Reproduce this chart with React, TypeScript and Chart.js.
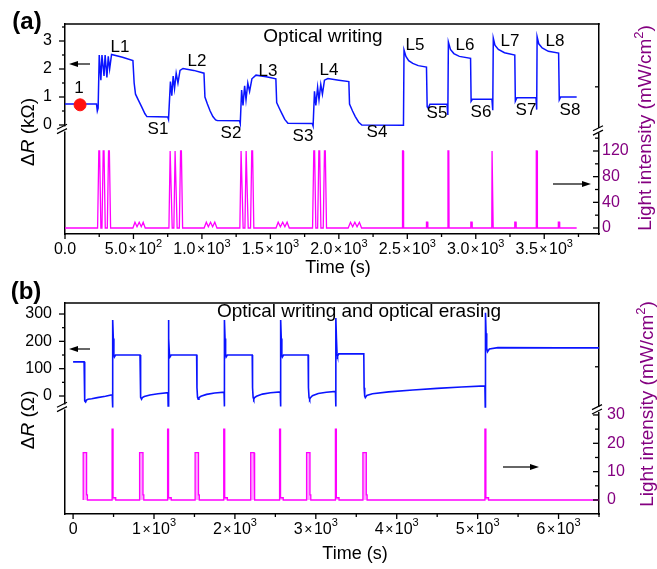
import React, { useEffect, useRef } from 'react';
import { Chart, registerables } from 'chart.js';

Chart.register(...registerables);

const FONT = '"Liberation Sans", Arial, Helvetica, sans-serif';
const BLUE = '#0a14ff';
const MAGENTA = '#ff00ff';
const PURPLE = '#840080';

// ---------------- Panel (a): optical writing ----------------
const timeRA = [0, 230, 236, 242, 250, 262, 270, 285, 293, 306, 316, 326, 340, 420, 496, 505, 515, 535, 560, 584, 598, 750, 756, 770, 780, 790, 800, 812, 825, 840, 862, 940, 1015, 1022, 1040, 1060, 1080, 1100, 1112, 1275, 1280, 1290, 1300, 1312, 1322, 1335, 1348, 1365, 1395, 1470, 1540, 1546, 1565, 1585, 1605, 1628, 1806, 1812, 1822, 1832, 1845, 1855, 1868, 1880, 1895, 1920, 2000, 2073, 2078, 2100, 2120, 2145, 2168, 2472, 2476, 2490, 2510, 2540, 2580, 2640, 2645, 2652, 2665, 2790, 2796, 2800, 2815, 2840, 2880, 2962, 2966, 2975, 3118, 3124, 3128, 3140, 3165, 3210, 3285, 3289, 3300, 3440, 3445, 3448, 3460, 3485, 3530, 3605, 3610, 3620, 3737];
const deltaRA = [0.75, 0.75, 0.5, 0.6, 2.5, 1.6, 2.5, 1.75, 2.5, 1.7, 2.45, 2.0, 2.52, 2.42, 2.3, 1.5, 1.1, 0.9, 0.65, 0.4, 0.3, 0.29, 0.2, 1.55, 1.05, 1.75, 1.3, 1.85, 1.5, 1.95, 2.02, 1.95, 1.85, 1.0, 0.75, 0.5, 0.3, 0.18, 0.16, 0.15, 0.05, 1.25, 0.7, 1.4, 0.9, 1.5, 1.2, 1.65, 1.78, 1.72, 1.65, 0.8, 0.6, 0.4, 0.2, 0.06, 0.05, -0.04, 1.2, 0.7, 1.35, 0.9, 1.45, 1.1, 1.6, 1.66, 1.6, 1.55, 0.75, 0.5, 0.3, 0.1, 0.0, -0.01, 2.68, 2.45, 2.3, 2.2, 2.12, 2.07, 0.65, 0.6, 0.74, 0.74, 0.36, 2.96, 2.7, 2.55, 2.45, 2.38, 0.85, 0.92, 0.92, 0.53, 3.1, 2.85, 2.7, 2.58, 2.5, 0.85, 0.97, 0.97, 0.55, 3.15, 2.9, 2.75, 2.63, 2.57, 0.9, 1.0, 1.0];

const timeLA = [
  0, 238, 247, 253, 262,
  270, 279, 285, 294,
  309, 318, 324, 333,
  496, 511, 526, 542, 557, 571, 586,
  759, 768, 774, 783,
  795, 804, 810, 819,
  835, 844, 850, 859,
  1016, 1032, 1047, 1063, 1078, 1094, 1110,
  1277, 1286, 1292, 1301,
  1314, 1323, 1329, 1338,
  1355, 1364, 1370, 1379,
  1541, 1557, 1573, 1590, 1606, 1622, 1638,
  1808, 1817, 1823, 1832,
  1845, 1854, 1860, 1869,
  1886, 1895, 1901, 1910,
  2068, 2085, 2101, 2117, 2133, 2150, 2166,
  2463, 2465, 2471, 2473,
  2639, 2640, 2649, 2650,
  2795, 2797, 2803, 2805,
  2963, 2964, 2973, 2974,
  3117, 3119, 3125, 3127,
  3284, 3285, 3294, 3295,
  3440, 3442, 3448, 3450,
  3602, 3603, 3612, 3613,
  3737,
];
const lightA = [
  0, 0, 120, 120, 0,
  0, 120, 120, 0,
  0, 120, 120, 0,
  0, 9, 2, 9, 2, 9, 0,
  0, 120, 120, 0,
  0, 120, 120, 0,
  0, 120, 120, 0,
  0, 9, 2, 9, 2, 9, 0,
  0, 120, 120, 0,
  0, 120, 120, 0,
  0, 120, 120, 0,
  0, 9, 2, 9, 2, 9, 0,
  0, 120, 120, 0,
  0, 120, 120, 0,
  0, 120, 120, 0,
  0, 9, 2, 9, 2, 9, 0,
  0, 120, 120, 0,
  0, 9, 9, 0,
  0, 120, 120, 0,
  0, 9, 9, 0,
  0, 120, 120, 0,
  0, 9, 9, 0,
  0, 120, 120, 0,
  0, 9, 9, 0,
  0,
];
const dotTimeA = [110];
const dotValueA = [0.72];

const xTicksA = [0, 250, 500, 750, 1000, 1250, 1500, 1750, 2000, 2250, 2500, 2750, 3000, 3250, 3500, 3750];
const xLabelsA = ['0.0', '', '5.0×10²', '', '1.0×10³', '', '1.5×10³', '', '2.0×10³', '', '2.5×10³', '', '3.0×10³', '', '3.5×10³', ''];
const yTicksA = [0, 0.5, 1, 1.5, 2, 2.5, 3, 3.5];
const yLabelsA = ['0', '', '1', '', '2', '', '3', ''];
const y2TicksA = [0, 20, 40, 60, 80, 100, 120, 140, 220];
const y2LabelsA = ['0', '', '40', '', '80', '', '120', '', ''];

// ---------------- Panel (b): optical writing and erasing ----------------
const timeRB = [0, 136, 140, 147, 155, 165, 185, 230, 300, 400, 484,
  488, 491, 497, 504, 511, 525, 827,
  831, 838, 846, 856, 880, 950, 1050, 1172,
  1175, 1178, 1184, 1191, 1198, 1212, 1527,
  1531, 1538, 1546, 1556, 1580, 1650, 1750, 1866,
  1869, 1872, 1878, 1885, 1892, 1906, 2214,
  2218, 2225, 2233, 2243, 2267, 2340, 2440, 2561,
  2564, 2567, 2573, 2580, 2587, 2601, 2905,
  2909, 2916, 2924, 2934, 2958, 3030, 3130, 3243,
  3246, 3249, 3255, 3262, 3269, 3283, 3593,
  3597, 3604, 3612, 3630, 3700, 3900, 4200, 4500, 4800, 5090,
  5094, 5097, 5104, 5112, 5122, 5145, 5250, 6000, 6500];
const deltaRB = [125, 125, 40, -18, -22, -15, -12, -10, -6, -1, 5,
  -42, 278, 210, 152, 143, 150, 150,
  30, -5, -12, -6, -2, 4, 8, 12,
  -36, 278, 210, 152, 143, 150, 150,
  30, -5, -12, -6, -1, 6, 11, 14,
  -38, 278, 210, 152, 143, 150, 150,
  30, -5, -12, -6, -1, 7, 12, 15,
  -38, 278, 210, 152, 143, 150, 150,
  30, -5, -12, -6, 1, 9, 14, 17,
  -38, 285, 210, 155, 146, 154, 154,
  30, 0, -6, 2, 8, 15, 22, 28, 33, 37,
  -40, 305, 230, 175, 162, 172, 177, 176, 176];

const timeLB = [
  125, 125, 167, 167, 177, 177,
  482, 482, 494, 494, 527, 527,
  822, 822, 864, 864, 874, 874,
  1168, 1168, 1180, 1180, 1213, 1213,
  1508, 1508, 1550, 1550, 1560, 1560,
  1862, 1862, 1874, 1874, 1907, 1907,
  2195, 2195, 2237, 2237, 2247, 2247,
  2552, 2552, 2564, 2564, 2597, 2597,
  2886, 2886, 2928, 2928, 2938, 2938,
  3242, 3242, 3254, 3254, 3287, 3287,
  3582, 3582, 3624, 3624, 3634, 3634,
  5090, 5090, 5102, 5102, 5135, 5135,
  6500,
];
const lightB = [
  0, 16.7, 16.7, 1.8, 1.8, 0,
  0, 25, 25, 0.8, 0.8, 0,
  0, 16.7, 16.7, 1.8, 1.8, 0,
  0, 25, 25, 0.8, 0.8, 0,
  0, 16.7, 16.7, 1.8, 1.8, 0,
  0, 25, 25, 0.8, 0.8, 0,
  0, 16.7, 16.7, 1.8, 1.8, 0,
  0, 25, 25, 0.8, 0.8, 0,
  0, 16.7, 16.7, 1.8, 1.8, 0,
  0, 25, 25, 0.8, 0.8, 0,
  0, 16.7, 16.7, 1.8, 1.8, 0,
  0, 25, 25, 0.8, 0.8, 0,
  0,
];

const xTicksB = [0, 500, 1000, 1500, 2000, 2500, 3000, 3500, 4000, 4500, 5000, 5500, 6000, 6500];
const xLabelsB = ['0', '', '1×10³', '', '2×10³', '', '3×10³', '', '4×10³', '', '5×10³', '', '6×10³', ''];
const yTicksB = [0, 50, 100, 150, 200, 250, 300];
const yLabelsB = ['0', '', '100', '', '200', '', '300'];
const y2TicksB = [0, 5, 10, 15, 20, 25, 30, 47];
const y2LabelsB = ['0', '', '10', '', '20', '', '30', ''];

// ---------------- helpers ----------------
const toPoints = (xs: number[], ys: number[]) => xs.map((x, i) => ({ x, y: ys[i] }));

function fixedTicks(values: number[], labels: string[]) {
  return {
    afterBuildTicks: (s: any) => {
      s.ticks = values.map((v) => ({ value: v }));
    },
    callback: (v: number) => {
      const i = values.indexOf(v);
      return i >= 0 ? labels[i] : '';
    },
  };
}

const SUP: Record<string, string> = { '²': '2', '³': '3' };

// draws a tick label such as "5.0×10²" with a real raised exponent, centred on cx
function drawRichLabel(ctx: any, str: string, cx: number, cy: number, size: number) {
  const parts: { s: string; font: string; dy: number; pad: number }[] = [];
  for (const ch of str) {
    if (SUP[ch]) parts.push({ s: SUP[ch], font: `${Math.round(size * 0.7)}px ${FONT}`, dy: -size * 0.38, pad: 0 });
    else if (ch === '×') parts.push({ s: '×', font: `${Math.round(size * 0.85)}px ${FONT}`, dy: 0.5, pad: 1.5 });
    else parts.push({ s: ch, font: `${size}px ${FONT}`, dy: 0, pad: 0 });
  }
  let total = 0;
  for (const p of parts) {
    ctx.font = p.font;
    total += ctx.measureText(p.s).width + 2 * p.pad;
  }
  let x = cx - total / 2;
  ctx.textAlign = 'left';
  ctx.textBaseline = 'middle';
  for (const p of parts) {
    ctx.font = p.font;
    x += p.pad;
    ctx.fillText(p.s, x, cy + p.dy);
    x += ctx.measureText(p.s).width + p.pad;
  }
}

function makeDecor(d: any) {
  return {
    id: 'decor',
    afterDraw(chart: any) {
      const ctx = chart.ctx;
      const ca = chart.chartArea;
      const oy = d.offsetY;
      ctx.save();
      ctx.strokeStyle = '#000';
      ctx.fillStyle = '#000';
      ctx.lineWidth = 1.5;
      // top frame
      ctx.beginPath();
      ctx.moveTo(ca.left - 0.75, ca.top);
      ctx.lineTo(ca.right + 0.75, ca.top);
      ctx.stroke();
      // tick marks
      ctx.lineWidth = 1.3;
      for (const t of d.ticks) {
        const sc = chart.scales[t.id];
        for (const tk of sc.ticks) {
          const idx = t.values.indexOf(tk.value);
          const major = idx >= 0 && t.labels[idx] !== '';
          const len = major ? t.major : t.minor;
          const p = sc.getPixelForValue(tk.value);
          ctx.beginPath();
          if (t.side === 'bottom') {
            ctx.moveTo(p, ca.bottom);
            ctx.lineTo(p, ca.bottom + len);
          } else if (t.side === 'left') {
            ctx.moveTo(ca.left, p);
            ctx.lineTo(ca.left - len, p);
          } else {
            ctx.moveTo(ca.right, p);
            ctx.lineTo(ca.right - len, p);
          }
          ctx.stroke();
        }
      }
      // x tick labels with exponents
      const xs = chart.scales.x;
      ctx.fillStyle = '#000';
      d.xValues.forEach((v: number, i: number) => {
        const lab = d.xLabels[i];
        if (!lab) return;
        drawRichLabel(ctx, lab, xs.getPixelForValue(v), ca.bottom + d.xLabelDy, 16);
      });
      // axis breaks
      for (const b of d.breaks) {
        const sc = chart.scales[b.id];
        const py = sc.getPixelForValue(b.value);
        const ax = b.side === 'left' ? ca.left : ca.right;
        ctx.fillStyle = '#fff';
        ctx.fillRect(ax - 2, py - 2.5, 4, 5);
        ctx.strokeStyle = '#000';
        ctx.lineWidth = 1.2;
        for (const dd of [-2.2, 2.2]) {
          ctx.beginPath();
          ctx.moveTo(ax + b.dx1, py + dd + 2.5);
          ctx.lineTo(ax + b.dx2, py + dd - 2.5);
          ctx.stroke();
        }
      }
      // arrows
      ctx.fillStyle = '#000';
      ctx.strokeStyle = '#000';
      ctx.lineWidth = 1.2;
      for (const a of d.arrows) {
        const dir = Math.sign(a.x2 - a.x1);
        const y = a.y - oy;
        ctx.beginPath();
        ctx.moveTo(a.x1, y);
        ctx.lineTo(a.x2 - dir * 6, y);
        ctx.stroke();
        ctx.beginPath();
        ctx.moveTo(a.x2, y);
        ctx.lineTo(a.x2 - dir * 9, y - 3);
        ctx.lineTo(a.x2 - dir * 9, y + 3);
        ctx.closePath();
        ctx.fill();
      }
      // texts
      for (const t of d.texts) {
        ctx.save();
        ctx.translate(t.x, t.y - oy);
        if (t.rotate) ctx.rotate(t.rotate);
        ctx.fillStyle = t.color || '#000';
        ctx.textBaseline = 'middle';
        ctx.textAlign = 'left';
        const segs = t.segs || [{ s: t.text, font: t.font }];
        let total = 0;
        for (const sg of segs) {
          ctx.font = sg.font;
          total += ctx.measureText(sg.s).width;
        }
        let x = -total / 2;
        for (const sg of segs) {
          ctx.font = sg.font;
          ctx.fillText(sg.s, x, sg.dy || 0);
          x += ctx.measureText(sg.s).width;
        }
        ctx.restore();
      }
      ctx.restore();
    },
  };
}

function buildConfig(p: any) {
  const tickFont = { family: FONT, size: 16 };
  const border = { display: true, color: '#000', width: 1.5 };
  const grid = { display: false, drawTicks: false };
  const xt = fixedTicks(p.xTicks, p.xLabels);
  const yt = fixedTicks(p.yTicks, p.yLabels);
  const y2t = fixedTicks(p.y2Ticks, p.y2Labels);
  const decor = {
    ...p.decor,
    xValues: p.xTicks,
    xLabels: p.xLabels,
    ticks: [
      { id: 'x', side: 'bottom', major: 5, minor: 3, values: p.xTicks, labels: p.xLabels },
      { id: 'y', side: 'left', major: 6, minor: 3, values: p.yTicks, labels: p.yLabels },
      { id: 'y2', side: 'right', major: 6, minor: 4, values: p.y2Ticks, labels: p.y2Labels },
    ],
  };
  return {
    type: 'line',
    data: { datasets: p.datasets },
    options: {
      responsive: false,
      animation: false,
      devicePixelRatio: 1,
      events: [],
      layout: { padding: { top: p.areaTop, left: 0, right: 0, bottom: 0 } },
      plugins: { legend: { display: false }, tooltip: { enabled: false } },
      elements: { point: { radius: 0 }, line: { tension: 0 } },
      scales: {
        x: {
          type: 'linear',
          min: p.xMin,
          max: p.xMax,
          grid,
          border,
          afterBuildTicks: xt.afterBuildTicks,
          afterFit: (s: any) => { s.height = p.xAxisHeight; },
          ticks: { display: false, callback: xt.callback, autoSkip: false, maxRotation: 0, minRotation: 0 },
        },
        y: {
          type: 'linear',
          position: 'left',
          min: p.yMin,
          max: p.yMax,
          grid,
          border,
          afterBuildTicks: yt.afterBuildTicks,
          afterFit: (s: any) => { s.width = 65; },
          ticks: { callback: yt.callback, autoSkip: false, padding: 13, color: '#000', font: tickFont },
        },
        y2: {
          type: 'linear',
          position: 'right',
          min: p.y2Min,
          max: p.y2Max,
          grid,
          border,
          afterBuildTicks: y2t.afterBuildTicks,
          afterFit: (s: any) => { s.width = 58; },
          ticks: { callback: y2t.callback, autoSkip: false, padding: p.y2Padding, color: PURPLE, font: tickFont },
        },
      },
    },
    plugins: [makeDecor(decor)],
  };
}

const F = (size: number, extra = '') => `${extra}${size}px ${FONT}`;

const rightTitle = (x: number, y: number) => ({
  x,
  y,
  rotate: -Math.PI / 2,
  color: PURPLE,
  segs: [
    { s: 'Light intensity (mW/cm', font: F(19) },
    { s: '2', font: F(13), dy: -7 },
    { s: ')', font: F(19) },
  ],
});

const panelA = {
  top: 0,
  height: 285,
  areaTop: 24,
  xAxisHeight: 51,
  xMin: 0,
  xMax: 3900,
  yMin: -3.893,
  yMax: 3.607,
  y2Min: -9.35,
  y2Max: 317.9,
  y2Padding: 3,
  xTicks: xTicksA, xLabels: xLabelsA,
  yTicks: yTicksA, yLabels: yLabelsA,
  y2Ticks: y2TicksA, y2Labels: y2LabelsA,
  datasets: [
    { data: toPoints(dotTimeA, dotValueA), yAxisID: 'y', showLine: false, pointRadius: 6, pointBackgroundColor: '#ff1010', pointBorderColor: '#ff1010', borderColor: '#ff1010' },
    { data: toPoints(timeRA, deltaRA), yAxisID: 'y', borderColor: BLUE, borderWidth: 1.5, pointRadius: 0, fill: false },
    { data: toPoints(timeLA, lightA), yAxisID: 'y2', borderColor: MAGENTA, borderWidth: 1.3, pointRadius: 0, fill: false },
  ],
  decor: {
    offsetY: 0,
    xLabelDy: 16,
    breaks: [
      { id: 'y', value: -0.14, side: 'left', dx1: -8, dx2: 2 },
      { id: 'y2', value: 152, side: 'right', dx1: -6, dx2: 4 },
    ],
    arrows: [
      { x1: 90, x2: 69, y: 64 },
      { x1: 553, x2: 591, y: 184 },
    ],
    texts: [
      { text: '(a)', x: 27, y: 22, font: F(24, 'bold ') },
      { text: 'Optical writing', x: 323, y: 37, font: F(19) },
      { text: '1', x: 79, y: 88, font: F(17) },
      { text: 'L1', x: 120, y: 47, font: F(17) },
      { text: 'L2', x: 197, y: 61, font: F(17) },
      { text: 'L3', x: 268, y: 71, font: F(17) },
      { text: 'L4', x: 329, y: 70, font: F(17) },
      { text: 'L5', x: 415, y: 45, font: F(17) },
      { text: 'L6', x: 465, y: 45, font: F(17) },
      { text: 'L7', x: 510, y: 41, font: F(17) },
      { text: 'L8', x: 555, y: 41, font: F(17) },
      { text: 'S1', x: 158, y: 129, font: F(17) },
      { text: 'S2', x: 231, y: 133, font: F(17) },
      { text: 'S3', x: 303, y: 136, font: F(17) },
      { text: 'S4', x: 377, y: 132, font: F(17) },
      { text: 'S5', x: 437, y: 113, font: F(17) },
      { text: 'S6', x: 481, y: 112, font: F(17) },
      { text: 'S7', x: 526, y: 110, font: F(17) },
      { text: 'S8', x: 570, y: 110, font: F(17) },
      { text: 'Time (s)', x: 338, y: 268, font: F(18) },
      { x: 29, y: 132, rotate: -Math.PI / 2, segs: [{ s: 'Δ', font: F(19) }, { s: 'R', font: F(19, 'italic ') }, { s: ' (kΩ)', font: F(19) }] },
      rightTitle(646, 128),
    ],
  },
};

const panelB = {
  top: 270,
  height: 299,
  areaTop: 33,
  xAxisHeight: 55,
  xMin: -100,
  xMax: 6500,
  yMin: -431.7,
  yMax: 340.3,
  y2Min: -4.94,
  y2Max: 69.5,
  y2Padding: 8,
  xTicks: xTicksB, xLabels: xLabelsB,
  yTicks: yTicksB, yLabels: yLabelsB,
  y2Ticks: y2TicksB, y2Labels: y2LabelsB,
  datasets: [
    { data: toPoints(timeRB, deltaRB), yAxisID: 'y', borderColor: BLUE, borderWidth: 1.6, pointRadius: 0, fill: false },
    { data: toPoints(timeLB, lightB), yAxisID: 'y2', borderColor: MAGENTA, borderWidth: 1.3, pointRadius: 0, fill: 'origin', backgroundColor: 'rgba(255,90,255,0.55)' },
  ],
  decor: {
    offsetY: 270,
    xLabelDy: 15.5,
    breaks: [
      { id: 'y', value: -40, side: 'left', dx1: -8, dx2: 2 },
      { id: 'y2', value: 32, side: 'right', dx1: -7, dx2: 3 },
    ],
    arrows: [
      { x1: 90, x2: 69, y: 349 },
      { x1: 503, x2: 539, y: 467 },
    ],
    texts: [
      { text: '(b)', x: 26, y: 292, font: F(24, 'bold ') },
      { text: 'Optical writing and optical erasing', x: 359, y: 312, font: F(19) },
      { text: 'Time (s)', x: 355, y: 554, font: F(18) },
      { x: 29, y: 420, rotate: -Math.PI / 2, segs: [{ s: 'Δ', font: F(19) }, { s: 'R', font: F(19, 'italic ') }, { s: ' (Ω)', font: F(19) }] },
      rightTitle(648, 404),
    ],
  },
};

function Panel({ spec }: { spec: any }) {
  const ref = useRef<HTMLCanvasElement>(null);
  useEffect(() => {
    const chart = new Chart(ref.current as HTMLCanvasElement, buildConfig(spec) as any);
    return () => chart.destroy();
  }, [spec]);
  return (
    <canvas
      ref={ref}
      width={657}
      height={spec.height}
      style={{ position: 'absolute', left: 0, top: spec.top, width: 657, height: spec.height, display: 'block' }}
    />
  );
}

export default function App() {
  return (
    <div style={{ position: 'absolute', left: 0, top: 0, width: 657, height: 569, background: '#fff', overflow: 'hidden' }}>
      <Panel spec={panelA} />
      <Panel spec={panelB} />
    </div>
  );
}
